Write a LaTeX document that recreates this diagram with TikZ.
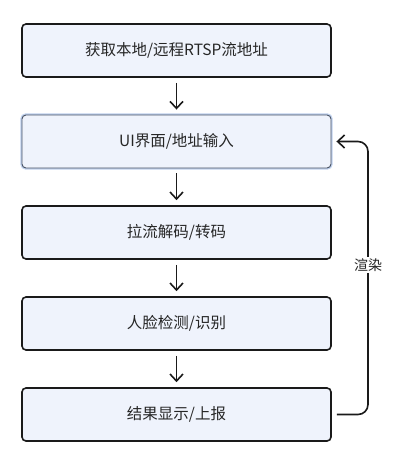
\documentclass[tikz,border=0pt]{standalone}
\usepackage{fontspec}
\setmainfont{Noto Sans CJK SC}
\usetikzlibrary{arrows.meta}
\definecolor{boxfill}{HTML}{EFF3FC}
\definecolor{boxline}{HTML}{1A1A1A}
\definecolor{halo}{HTML}{BFD0EE}
\definecolor{selline}{HTML}{4A5464}
\definecolor{txt}{HTML}{262626}
\tikzset{
  stepbox/.style={draw=boxline, line width=1.6pt, fill=boxfill, rounded corners=4pt,
    minimum width=309pt, minimum height=53pt, inner sep=0pt,
    font=\fontsize{15.5pt}{18pt}\selectfont, text=txt},
  selbox/.style={stepbox, draw=selline, line width=0.9pt,
    preaction={draw=halo, line width=3.4pt}},
  arr/.style={draw=boxline, line width=1.6pt, -{Straight Barb[length=7pt,width=13pt,line width=1.6pt]}},
  lbl/.style={fill=white, inner sep=2pt, font=\fontsize{14pt}{16pt}\selectfont, text=txt}
}
\begin{document}
\begin{tikzpicture}[x=1pt,y=-1pt]
\useasboundingbox[fill=white] (0,0) rectangle (407,466);
\node[stepbox] (b1) at (176.5,50.5) {获取本地/远程RTSP流地址};
\node[selbox]  (b2) at (176.5,141.5) {UI界面/地址输入};
\node[stepbox] (b3) at (176.5,232.5) {拉流解码/转码};
\node[stepbox] (b4) at (176.5,323.5) {人脸检测/识别};
\node[stepbox] (b5) at (176.5,414.5) {结果显示/上报};
\draw[arr] ([yshift=-5pt]b1.south) -- ([yshift=5pt]b2.north);
\draw[arr] ([yshift=-5pt]b2.south) -- ([yshift=5pt]b3.north);
\draw[arr] ([yshift=-5pt]b3.south) -- ([yshift=5pt]b4.north);
\draw[arr] ([yshift=-5pt]b4.south) -- ([yshift=5pt]b5.north);
\coordinate (lp) at (368,265);
\draw[arr, rounded corners=10pt] ([xshift=5pt]b5.east) -| (lp) |- ([xshift=5pt]b2.east);
\node[lbl] (l) at (lp) {渲染};
\end{tikzpicture}
\end{document}
